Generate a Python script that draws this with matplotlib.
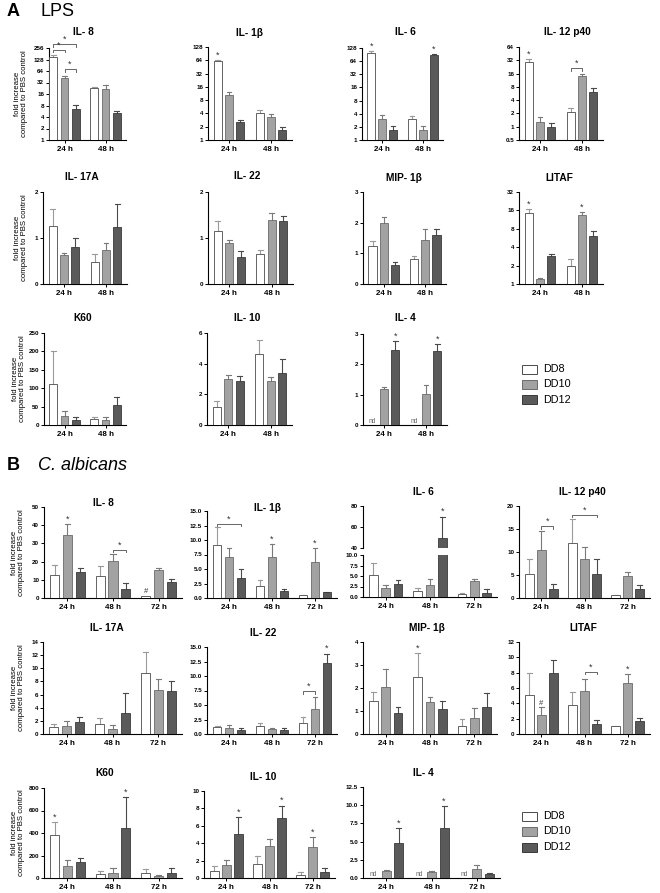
import matplotlib
matplotlib.use("Agg")
import matplotlib.pyplot as plt
from matplotlib.patches import Rectangle
from matplotlib.ticker import NullLocator
import numpy as np

plt.rcParams.update({"font.family": ["Liberation Sans", "DejaVu Sans"], "axes.linewidth": 0.8,
                     "xtick.major.width": 0.7, "ytick.major.width": 0.7,
                     "xtick.major.size": 2.5, "ytick.major.size": 2.5,
                     "xtick.labelsize": 5.8, "ytick.labelsize": 4.5,
                     "xtick.major.pad": 1.5, "ytick.major.pad": 1.0})

W, H = 660, 893
SERIES = ["DD8", "DD10", "DD12"]
FILL = ["#ffffff", "#a2a2a2", "#5a5a5a"]
EDGE = ["#4a4a4a", "#6a6a6a", "#3a3a3a"]
ERRC = ["#9a9a9a", "#7a7a7a", "#4a4a4a"]
T2 = ["24 h", "48 h"]
T3 = ["24 h", "48 h", "72 h"]
YLAB = "fold increase\ncompared to PBS control"

# ---- A: LPS  (rows: DD8, DD10, DD12 / cols: time points), mean and SD ----
a_il8_m = [[148, 22.7], [41.6, 22.0], [6.6, 5.2]]
a_il8_s = [[20, 2.3], [6.4, 5.0], [1.5, 0.6]]
a_il1b_m = [[61, 4.0], [10.4, 3.25], [2.5, 1.68]]
a_il1b_s = [[5, 0.9], [1.6, 0.55], [0.3, 0.25]]
a_il6_m = [[100, 2.97], [3.0, 1.66], [1.66, 87]]
a_il6_s = [[11, 0.5], [0.65, 0.45], [0.4, 8]]
a_il12_m = [[29.7, 2.1], [1.28, 14.0], [1.0, 6.2]]
a_il12_s = [[4.3, 0.5], [0.36, 1.9], [0.24, 1.3]]
a_il17_m = [[1.27, 0.48], [0.63, 0.74], [0.81, 1.23]]
a_il17_s = [[0.37, 0.17], [0.04, 0.16], [0.18, 0.52]]
a_il22_m = [[1.16, 0.65], [0.886, 1.4], [0.59, 1.36]]
a_il22_s = [[0.21, 0.09], [0.08, 0.14], [0.12, 0.12]]
a_mip_m = [[1.24, 0.82], [2.0, 1.45], [0.62, 1.61]]
a_mip_s = [[0.17, 0.09], [0.18, 0.35], [0.11, 0.19]]
a_litaf_m = [[14.7, 2.0], [1.2, 13.7], [2.9, 6.1]]
a_litaf_s = [[2.2, 0.55], [0.04, 1.5], [0.25, 1.3]]
a_k60_m = [[111, 15.5], [25.5, 13.6], [12.7, 53.6]]
a_k60_s = [[89, 6.5], [13.5, 7.4], [8.3, 21.4]]
a_il10_m = [[1.16, 4.65], [2.99, 2.84], [2.88, 3.36]]
a_il10_s = [[0.39, 0.9], [0.29, 0.26], [0.3, 0.97]]
a_il4_m = [[0, 0], [1.18, 1.01], [2.47, 2.44]]
a_il4_s = [[0, 0], [0.06, 0.31], [0.31, 0.23]]

# ---- B: C. albicans ----
b_il8_m = [[12.6, 11.9, 1.3], [34.8, 20.2, 15.5], [14.1, 5.2, 8.9]]
b_il8_s = [[5.4, 5.7, 0], [6.0, 3.9, 0.9], [2.6, 3.3, 1.6]]
b_il1b_m = [[9.1, 2.0, 0.45], [7.1, 7.1, 6.2], [3.4, 1.25, 0.95]]
b_il1b_s = [[3.16, 1.1, 0.06], [1.6, 2.2, 2.35], [1.6, 0.3, 0.15]]
b_il6_m = [[5.3, 1.5, 0.7], [2.1, 2.8, 3.7], [3.2, 49.1, 0.95]]
b_il6_s = [[2.9, 0.7, 0.2], [0.8, 1.6, 0.7], [0.8, 20.8, 1.05]]
b_il12_m = [[5.3, 11.9, 0.65], [10.35, 8.4, 4.8], [2.05, 5.3, 2.05]]
b_il12_s = [[3.1, 5.2, 0.1], [4.25, 2.6, 0.75], [1.05, 3.15, 0.85]]
b_il17_m = [[1.1, 1.47, 9.24], [1.27, 0.76, 6.65], [1.88, 3.2, 6.6]]
b_il17_s = [[0.4, 1.02, 3.26], [0.71, 0.56, 1.65], [0.76, 3.0, 1.5]]
b_il22_m = [[1.14, 1.42, 1.88], [1.0, 0.9, 4.28], [0.73, 0.73, 12.16]]
b_il22_s = [[0.28, 0.46, 0.97], [0.48, 0.2, 2.06], [0.27, 0.27, 1.71]]
b_mip_m = [[1.43, 2.46, 0.35], [2.03, 1.37, 0.7], [0.93, 1.07, 1.18]]
b_mip_s = [[0.4, 1.05, 0.32], [0.78, 0.22, 0.41], [0.25, 0.37, 0.61]]
b_litaf_m = [[5.12, 3.72, 1.02], [2.5, 5.6, 6.64], [7.95, 1.33, 1.76]]
b_litaf_s = [[2.83, 1.75, 0.08], [1.0, 1.6, 1.23], [1.75, 0.52, 0.31]]
b_k60_m = [[382, 35, 44], [108, 44, 20], [145, 447, 44]]
b_k60_s = [[118, 30, 35], [52, 44, 7], [30, 273, 44]]
b_il10_m = [[0.84, 1.64, 0.38], [1.53, 3.7, 3.51], [5.04, 6.87, 0.69]]
b_il10_s = [[0.5, 0.84, 0.31], [0.57, 0.77, 1.15], [1.94, 1.45, 0.46]]
b_il4_m = [[0, 0, 0], [0.91, 0.77, 1.27], [4.77, 6.82, 0.5]]
b_il4_s = [[0, 0, 0], [0.23, 0.23, 0.55], [2.05, 3.04, 0.23]]

fig = plt.figure(figsize=(W / 100, H / 100), dpi=100)


def new_ax(x0, x1, y0, y1):
    ax = fig.add_axes([x0 / W, 1 - y1 / H, (x1 - x0) / W, (y1 - y0) / H])
    ax.spines[["top", "right"]].set_visible(False)
    ax.patch.set_alpha(0)
    return ax


def panel(box, m, s, times, ylim, yt, ytl=None, log=False, pad=0.85):
    ax = new_ax(*box)
    ng = len(times)
    ax.gs = 3.7 if ng == 2 else 3.6
    if log:
        ax.set_yscale("log", base=2)
    ax.yaxis.set_minor_locator(NullLocator())
    ax.set_ylim(*ylim)
    ax.set_xlim(-pad, ax.gs * (ng - 1) + 2 + 0.85)
    base = ylim[0]
    for i in range(3):
        xs = np.arange(ng) * ax.gs + i
        v = np.array(m[i], float)
        e = np.array(s[i], float)
        ok = v > 0
        ax.bar(xs[ok], v[ok] - base, bottom=base, width=0.72, color=FILL[i],
               edgecolor=EDGE[i], lw=0.6, zorder=3)
        for x, vi, ei in zip(xs[ok], v[ok], e[ok]):
            if ei > 0:
                ax.plot([x, x], [vi, vi + ei], color=ERRC[i], lw=0.8, zorder=2)
                ax.plot([x - 0.2, x + 0.2], [vi + ei] * 2, color=ERRC[i], lw=0.8, zorder=2)
        for x in xs[~ok]:
            ax.text(x, base, "nd", ha="center", va="bottom", fontsize=4.8, color="#666666")
    ax.set_xticks(np.arange(ng) * ax.gs + 1)
    ax.set_xticklabels(times, fontweight="bold")
    ax.set_yticks(yt)
    ax.set_yticklabels(ytl if ytl else [str(t) for t in yt], fontweight="bold")
    return ax


def lift(ax, x, y, dy):
    d = ax.transData.transform((x, y))
    return ax.transData.inverted().transform((d[0], d[1] + dy))[1]


def star(ax, m, s, g, i, txt="*"):
    x = g * ax.gs + i
    ax.annotate(txt, (x, m[i][g] + s[i][g]), xytext=(0, 0.3), textcoords="offset points",
                ha="center", va="bottom", fontsize=6.5 if txt == "*" else 5.5,
                color="#333333", annotation_clip=False)


def bracket(ax, m, s, g, i1, i2, dy=5):
    x1, x2 = g * ax.gs + i1, g * ax.gs + i2
    top = max(m[k][g] + s[k][g] for k in range(i1, i2 + 1))
    y = lift(ax, x1, top, dy)
    yd = lift(ax, x1, y, -2.5)
    ax.plot([x1, x1, x2, x2], [yd, y, y, yd], color="#666666", lw=0.7, clip_on=False)
    ax.annotate("*", ((x1 + x2) / 2, y), xytext=(0, 0.3), textcoords="offset points",
                ha="center", va="bottom", fontsize=6.5, color="#333333", annotation_clip=False)


def title(x, y, t):
    fig.text(x / W, 1 - y / H, t, ha="center", va="center", fontsize=7.3, fontweight="bold")


def ylab(x, y0, y1):
    fig.text(x / W, 1 - (y0 + y1) / 2 / H, YLAB, rotation=90, ha="center", va="center",
             fontsize=5.6, linespacing=1.05)


def legend(x, ys):
    for k, y in enumerate(ys):
        fig.add_artist(Rectangle(((x) / W, 1 - (y + 4.5) / H), 15 / W, 9 / H, transform=fig.transFigure,
                                 facecolor=FILL[k], edgecolor=EDGE[k], lw=0.7))
        fig.text((x + 21) / W, 1 - y / H, SERIES[k], ha="left", va="center", fontsize=7.8)


log2t = lambda a, b: [2 ** k for k in range(a, b + 1)]

# ================= A =================
fig.text(7 / W, 1 - 11 / H, "A", fontsize=13, fontweight="bold", va="center")
fig.text(40 / W, 1 - 11 / H, "LPS", fontsize=13, va="center")

ax = panel((49, 126, 48, 140), a_il8_m, a_il8_s, T2, (1, 256), log2t(0, 8), log=True, pad=0.4)
bracket(ax, a_il8_m, a_il8_s, 0, 0, 1, 5)
bracket(ax, a_il8_m, a_il8_s, 0, 0, 2, 10.5)
bracket(ax, a_il8_m, a_il8_s, 0, 1, 2, 6.5)
title(83, 32, "IL- 8"); ylab(21, 48, 140)

ax = panel((208, 292, 47, 140), a_il1b_m, a_il1b_s, T2, (1, 128), log2t(0, 7), log=True)
star(ax, a_il1b_m, a_il1b_s, 0, 0)
title(250, 33, "IL- 1β")

ax = panel((362, 443, 48, 140), a_il6_m, a_il6_s, T2, (1, 128), log2t(0, 7), log=True)
star(ax, a_il6_m, a_il6_s, 0, 0); star(ax, a_il6_m, a_il6_s, 1, 2)
title(405, 32, "IL- 6")

ax = panel((519, 603, 47, 140), a_il12_m, a_il12_s, T2, (0.5, 64), [0.5] + log2t(0, 6),
           ["0.5"] + [str(t) for t in log2t(0, 6)], log=True)
star(ax, a_il12_m, a_il12_s, 0, 0); bracket(ax, a_il12_m, a_il12_s, 1, 0, 1, 5.5)
title(567, 32, "IL- 12 p40")

ax = panel((43, 127, 192, 284), a_il17_m, a_il17_s, T2, (0, 2), [0, 1, 2])
title(82, 177, "IL- 17A"); ylab(21, 192, 284)
ax = panel((208, 293, 192, 284), a_il22_m, a_il22_s, T2, (0, 2), [0, 1, 2])
title(247, 176, "IL- 22")
ax = panel((363, 446, 192, 284), a_mip_m, a_mip_s, T2, (0, 3), [0, 1, 2, 3])
title(404, 178, "MIP- 1β")
ax = panel((519, 603, 192, 284), a_litaf_m, a_litaf_s, T2, (1, 32), log2t(0, 5), log=True)
star(ax, a_litaf_m, a_litaf_s, 0, 0); star(ax, a_litaf_m, a_litaf_s, 1, 1)
title(559, 178, "LITAF")

ax = panel((44, 126, 333, 425), a_k60_m, a_k60_s, T2, (0, 250), [0, 50, 100, 150, 200, 250])
title(83, 318, "K60"); ylab(19, 333, 425)
ax = panel((207, 292, 333, 425), a_il10_m, a_il10_s, T2, (0, 6), [0, 2, 4, 6])
title(247, 318, "IL- 10")
ax = panel((363, 447, 334, 425), a_il4_m, a_il4_s, T2, (0, 3), [0, 1, 2, 3])
star(ax, a_il4_m, a_il4_s, 0, 2); star(ax, a_il4_m, a_il4_s, 1, 2)
title(405, 318, "IL- 4")
legend(522, [369, 384, 400])

# ================= B =================
fig.text(7 / W, 1 - 466 / H, "B", fontsize=13, fontweight="bold", va="center")
fig.text(38 / W, 1 - 466 / H, "C. albicans", fontsize=13, style="italic", va="center")

ax = panel((44, 182, 507, 598), b_il8_m, b_il8_s, T3, (0, 50), [0, 10, 20, 30, 40, 50])
star(ax, b_il8_m, b_il8_s, 0, 1); bracket(ax, b_il8_m, b_il8_s, 1, 1, 2, 4.3)
star(ax, b_il8_m, b_il8_s, 2, 0, "#")
title(103, 503, "IL- 8"); ylab(18, 507, 598)

lin = lambda vals: [f"{v:.1f}" for v in vals]
ax = panel((207, 337, 511, 598), b_il1b_m, b_il1b_s, T3, (0, 15), [0, 2.5, 5, 7.5, 10, 12.5, 15],
           lin([0, 2.5, 5, 7.5, 10, 12.5, 15]))
bracket(ax, b_il1b_m, b_il1b_s, 0, 0, 2, 3.2)
star(ax, b_il1b_m, b_il1b_s, 1, 1); star(ax, b_il1b_m, b_il1b_s, 2, 1)
title(267, 508, "IL- 1β")

ax = panel((363, 497, 555, 597), b_il6_m, b_il6_s, T3, (0, 10), [0, 2.5, 5, 7.5, 10],
           lin([0, 2.5, 5, 7.5, 10]))
axu = panel((363, 497, 506, 548), b_il6_m, b_il6_s, T3, (40, 80), [40, 60, 80])
axu.spines["bottom"].set_visible(False)
axu.set_xticks([])
star(axu, b_il6_m, b_il6_s, 1, 2)
title(423, 492, "IL- 6")

ax = panel((519, 650, 506, 598), b_il12_m, b_il12_s, T3, (0, 20), [0, 5, 10, 15, 20])
bracket(ax, b_il12_m, b_il12_s, 0, 1, 2, 4.8)
bracket(ax, b_il12_m, b_il12_s, 1, 0, 2, 4.4)
title(582, 492, "IL- 12 p40")

ax = panel((43, 182, 642, 734), b_il17_m, b_il17_s, T3, (0, 14), [0, 2, 4, 6, 8, 10, 12, 14])
title(107, 628, "IL- 17A"); ylab(18, 642, 734)
ax = panel((207, 337, 647, 734), b_il22_m, b_il22_s, T3, (0, 15), [0, 2.5, 5, 7.5, 10, 12.5, 15],
           lin([0, 2.5, 5, 7.5, 10, 12.5, 15]))
bracket(ax, b_il22_m, b_il22_s, 2, 0, 1, 6.2); star(ax, b_il22_m, b_il22_s, 2, 2)
title(263, 633, "IL- 22")
ax = panel((363, 497, 642, 734), b_mip_m, b_mip_s, T3, (0, 4), [0, 1, 2, 3, 4])
star(ax, b_mip_m, b_mip_s, 1, 0)
title(427, 628, "MIP- 1β")
ax = panel((519, 650, 642, 734), b_litaf_m, b_litaf_s, T3, (0, 12), [0, 2, 4, 6, 8, 10, 12])
star(ax, b_litaf_m, b_litaf_s, 0, 1, "#"); bracket(ax, b_litaf_m, b_litaf_s, 1, 1, 2, 6.9)
star(ax, b_litaf_m, b_litaf_s, 2, 1)
title(583, 628, "LITAF")

ax = panel((44, 182, 788, 878), b_k60_m, b_k60_s, T3, (0, 800), [0, 200, 400, 600, 800])
star(ax, b_k60_m, b_k60_s, 0, 0); star(ax, b_k60_m, b_k60_s, 1, 2)
title(105, 773, "K60"); ylab(18, 788, 878)
ax = panel((204, 335, 791, 878), b_il10_m, b_il10_s, T3, (0, 10), [0, 2, 4, 6, 8, 10])
star(ax, b_il10_m, b_il10_s, 0, 2); star(ax, b_il10_m, b_il10_s, 1, 2); star(ax, b_il10_m, b_il10_s, 2, 1)
title(263, 777, "IL- 10")
ax = panel((363, 500, 787, 878), b_il4_m, b_il4_s, T3, (0, 12.5), [0, 2.5, 5, 7.5, 10, 12.5],
           lin([0, 2.5, 5, 7.5, 10, 12.5]))
star(ax, b_il4_m, b_il4_s, 0, 2); star(ax, b_il4_m, b_il4_s, 1, 2)
title(423, 773, "IL- 4")
legend(522, [816, 831, 847])

fig.savefig("out.png", dpi=100)
